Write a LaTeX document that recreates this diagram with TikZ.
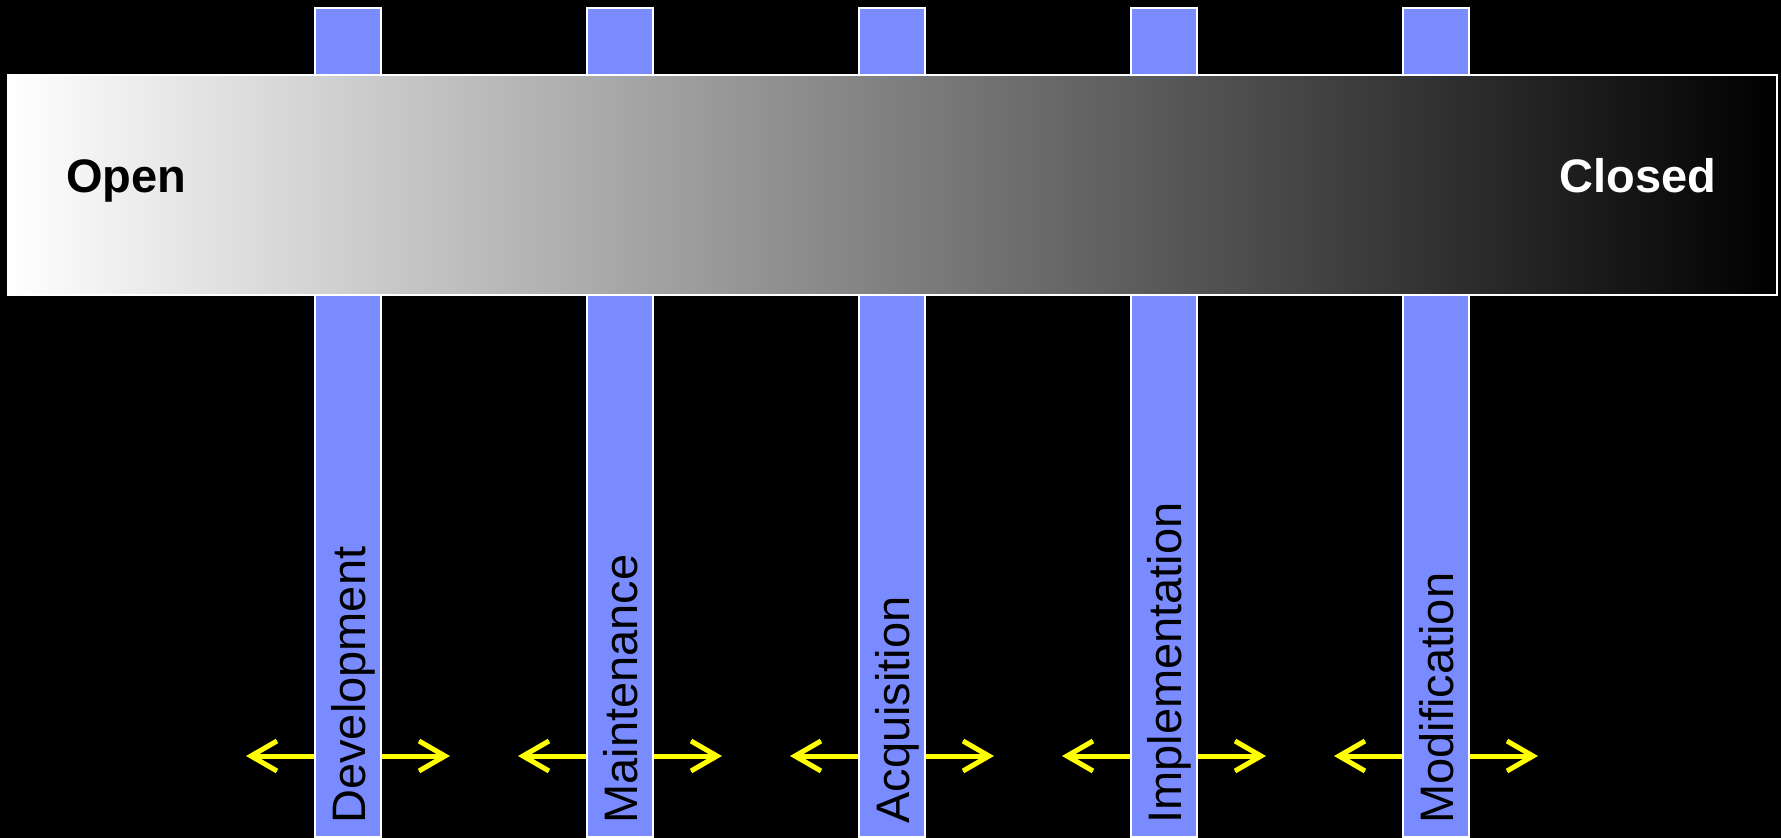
\documentclass[tikz,border=0pt]{standalone}
\usepackage{fontspec}
\setmainfont{Liberation Sans}
\usepackage{xcolor}
\usetikzlibrary{arrows.meta}

\definecolor{barblue}{RGB}{122,139,255}
\definecolor{arrowyellow}{RGB}{255,255,0}

\tikzset{
  phase/.style={draw=white, line width=0.8pt, fill=barblue,
    minimum width=33pt, minimum height=414.5pt, inner sep=0pt},
  phaselabel/.style={rotate=90, anchor=base west, inner sep=0pt,
    font=\fontsize{23.5}{28}\selectfont},
  endlabel/.style={inner sep=0pt, font=\fontsize{23.5}{28}\selectfont\bfseries},
  yarrow/.style={draw=arrowyellow, line width=2.5pt,
    -{Straight Barb[length=13pt,width=15pt]}},
}

\begin{document}
\begin{tikzpicture}[x=0.5pt,y=-0.5pt]
% background
\fill[black] (0,0) rectangle (1781,838);
\useasboundingbox (0,0) rectangle (1781,838);
% phase bars behind the scale
\foreach \i/\name in {1/Development,2/Maintenance,3/Acquisition,4/Implementation,5/Modification} {
  \pgfmathsetmacro{\cx}{348+272*(\i-1)}
  \node[phase] (b\i) at (\cx,422.5) {};
  \node[phaselabel] (t\i) at (\cx+17,824) {\name};
  \coordinate (l\i) at (\cx-102,756);
  \coordinate (r\i) at (\cx+102,756);
  \draw[yarrow] (b\i.west |- l\i) -- (l\i);
  \draw[yarrow] (b\i.east |- r\i) -- (r\i);
}
% open/closed scale
\node[draw=white, line width=1pt, left color=white, right color=black,
  minimum width=884.5pt, minimum height=110pt, inner sep=0pt] (scale) at (892.5,185.25) {};
\node[endlabel, anchor=base west, text=black] (open) at (66,193) {Open};
\node[endlabel, anchor=base east, text=white] (closed) at (1717,193) {Closed};
\end{tikzpicture}
\end{document}
